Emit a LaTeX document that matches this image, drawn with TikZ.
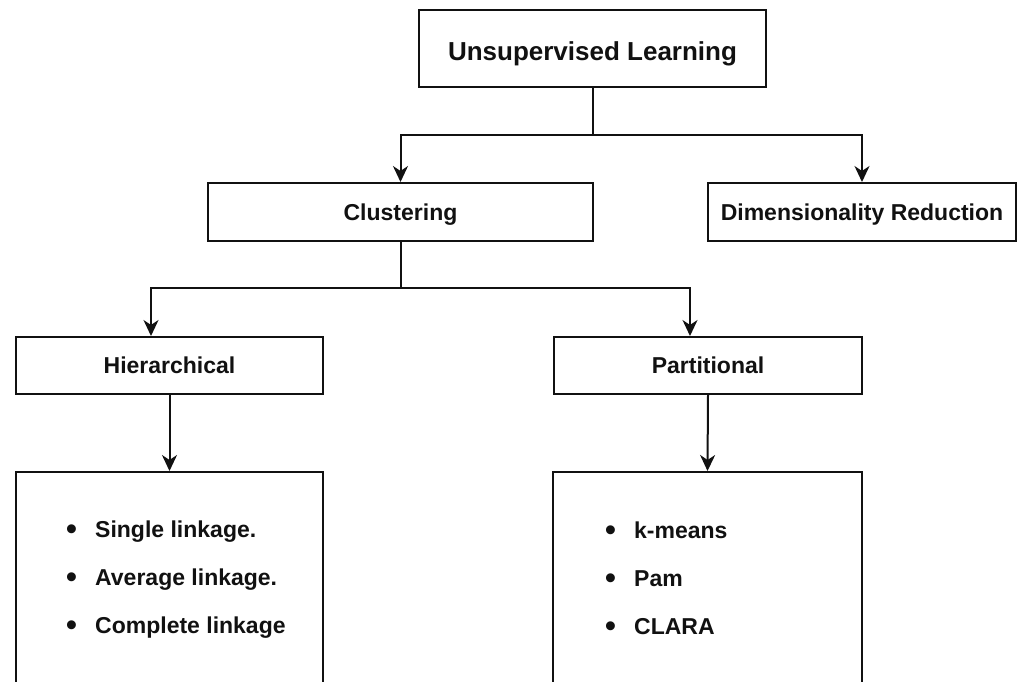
\documentclass[tikz,border=0pt]{standalone}
\usepackage{fontspec}
\setmainfont{Liberation Sans}
\usepackage{xcolor}
\definecolor{chart-black}{HTML}{111111}
\usetikzlibrary{arrows.meta}

\tikzset{
  box/.style={draw=chart-black, line width=2pt, fill=white, inner sep=0pt,
    text depth=0pt, text=chart-black, font=\fontsize{23}{28}\selectfont\bfseries},
  listbox/.style={draw=chart-black, line width=2pt, inner sep=0pt, anchor=north},
  item/.style={anchor=base west, inner sep=0pt, text=chart-black,
    font=\fontsize{23}{28}\selectfont\bfseries},
  arr/.style={draw=chart-black, line width=2pt,
    -{Stealth[length=16pt, width=15pt, inset=5pt]}},
}

\newcommand{\bul}{\makebox[29pt][l]{\raisebox{-2.5pt}{\fontsize{31}{31}\selectfont\textbullet}}}

\begin{document}
\begin{tikzpicture}[x=1pt, y=-1pt]

    % Page
    \useasboundingbox (0, 0) rectangle (1017, 681);
    \clip (0, 0) rectangle (1017, 681);

    % Boxes
    \node[box, minimum width=347pt, minimum height=77pt, text height=24pt, font=\fontsize{26}{30}\selectfont\bfseries] (ul) at (592.5, 48.5) {Unsupervised Learning};
    \node[box, minimum width=385pt, minimum height=58pt] (clust) at (400.5, 212) {Clustering};
    \node[box, minimum width=308pt, minimum height=58pt] (dimred) at (862, 212) {Dimensionality Reduction};
    \node[box, minimum width=307pt, minimum height=57pt] (hier) at (169.5, 365.5) {Hierarchical};
    \node[box, minimum width=308pt, minimum height=57pt] (part) at (708, 365.5) {Partitional};

    % Lists
    \node[listbox, minimum width=307pt, minimum height=240pt] (hlist) at (169.5, 471) {};
    \node[listbox, minimum width=309pt, minimum height=240pt] (plist) at (707.5, 471) {};

    \node[item] (hitem1) at (66, 537) {\bul Single linkage.};
    \node[item] (hitem2) at (66, 585) {\bul Average linkage.};
    \node[item] (hitem3) at (66, 633) {\bul Complete linkage};

    \node[item] (pitem1) at (605, 538) {\bul k-means};
    \node[item] (pitem2) at (605, 586) {\bul Pam};
    \node[item] (pitem3) at (605, 634) {\bul CLARA};

    % Connectors
    \coordinate (ulfork) at (592.5, 135);
    \coordinate (clfork) at (400.5, 288);
    \draw[arr] (ul.south) -- (ulfork) -| (clust.north);
    \draw[arr] (ulfork) -| (dimred.north);
    \draw[arr] (clust.south) -- (clfork) -| ([xshift=-18.5pt]hier.north);
    \draw[arr] (clfork) -| ([xshift=-18pt]part.north);
    \draw[arr] (hier.south) -- (hlist.north);
    \draw[arr] (part.south) -- (plist.north);

\end{tikzpicture}
\end{document}
